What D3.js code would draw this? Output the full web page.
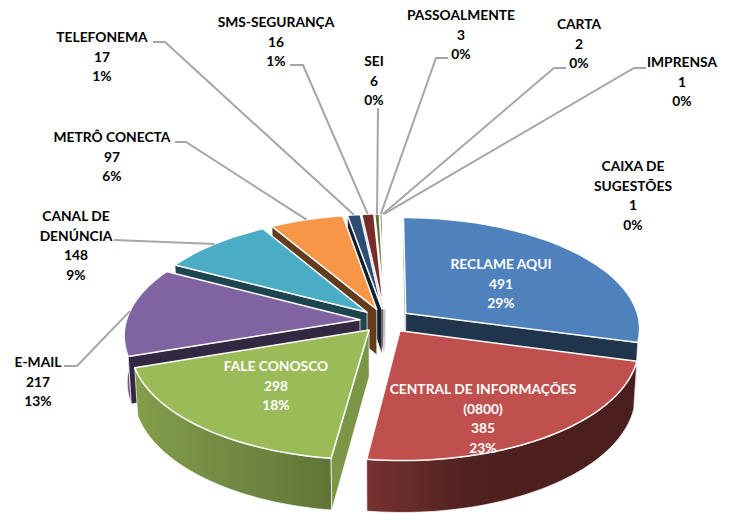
<!DOCTYPE html>
<html><head><meta charset="utf-8">
<style>html,body{margin:0;padding:0;background:#fff}svg{display:block}text{font-family:Lato,"Noto Sans",sans-serif;font-weight:700;font-size:13.8px}</style>
<script src="https://cdn.jsdelivr.net/npm/d3@7/dist/d3.min.js"></script>
</head><body><svg id="c" width="734" height="514"></svg>
<script>
// ---- data ----
const categories = ["RECLAME AQUI","CENTRAL DE INFORMAÇÕES (0800)","FALE CONOSCO","E-MAIL","CANAL DE DENÚNCIA","METRÔ CONECTA","TELEFONEMA","SMS-SEGURANÇA","SEI","PASSOALMENTE","CARTA","IMPRENSA","CAIXA DE SUGESTÕES"];
const values = [491,385,298,217,148,97,17,16,6,3,2,1,1];
const percents = ["29%","23%","18%","13%","9%","6%","1%","1%","0%","0%","0%","0%","0%"];
const labelLines = [["RECLAME AQUI"],["CENTRAL DE INFORMAÇÕES","(0800)"],["FALE CONOSCO"],["E-MAIL"],["CANAL DE","DENÚNCIA"],["METRÔ CONECTA"],["TELEFONEMA"],["SMS-SEGURANÇA"],["SEI"],["PASSOALMENTE"],["CARTA"],["IMPRENSA"],["CAIXA DE","SUGESTÕES"]];
// ---- styles / layout ----
const colors = ["#4F81BD","#C0504D","#9BBB59","#8064A2","#4BACC6","#F79646","#2C4D75","#772C2A","#5F7530","#4D3B62","#276A7C","#B65708","#729ACA"];
const labelX = [501,483,276,38,76,112,102,276,374,461,579,682,633];
const labelY = [264,389,366,362,216,137,37,22,61,15,24,62,166];
const labelFill = ["#fff","#fff","#fff","#000","#000","#000","#000","#000","#000","#000","#000","#000","#000"];
// leader lines: start and elbow; the far end is computed on the slice rim (null = no leader)
const leaderStart = [null,null,null,[64,366],[114,240],[175,142],[153,42],[290,65],[378,108],[448,58],[566,68],[646,68],null];
const leaderElbow = [null,null,null,[77,366],null,[186,142],[165,42],[303,65],null,[436,58],[554,68],[634,68],null];

const cx=385.5, cy=320.6, Rx=233.6, Ry=110, persp=0.13, explode=0.11, depth=46, taper=0.012;
const svg=d3.select("#c"), defs=svg.append("defs");
const pie=d3.pie().sort(null).value(d=>d);
const arcs=pie(values);
const xS=d3.scaleLinear().domain([-1,1]).range([cx-Rx,cx+Rx]);
const yS=d3.scaleLinear().domain([-1,1]).range([cy-Ry,cy+Ry]);
function project(u,v,z){
  const s=1/(1-persp*v)*(1-taper*(z?1:0));
  return [xS(u*s), yS(v*s)+(z?depth/(1-persp*v):0)];
}
const line=d3.line();
const shade=d3.scaleLinear().domain([130,333,367,470,640]).range([.85,.62,.62,.41,.38]).clamp(true);
const mult=(c,k)=>{const r=d3.rgb(c);return d3.rgb(r.r*k,r.g*k,r.b*k).formatHex()};

function sliceGeom(a){
  const mid=(a.startAngle+a.endAngle)/2;
  const ox=explode*Math.sin(mid), oy=-explode*Math.cos(mid);
  const pt=(th,r,z)=>project(ox+r*Math.sin(th),oy-r*Math.cos(th),z);
  const n=Math.max(2,Math.ceil((a.endAngle-a.startAngle)*40));
  const ths=d3.range(n+1).map(i=>a.startAngle+(a.endAngle-a.startAngle)*i/n);
  return {mid,pt,ths};
}
const order=arcs.map((a,i)=>i).sort((p,q)=>{
  const m=i=>-Math.cos((arcs[i].startAngle+arcs[i].endAngle)/2);
  return m(p)-m(q);
});
const gSlices=svg.append("g");
const stopsX=shade.domain();
order.forEach(i=>{
  const a=arcs[i], g=sliceGeom(a), col=colors[i], grp=gSlices.append("g");
  const gid="wall"+i;
  const lg=defs.append("linearGradient").attr("id",gid).attr("gradientUnits","userSpaceOnUse")
    .attr("x1",130).attr("x2",640).attr("y1",0).attr("y2",0);
  stopsX.forEach(x=>lg.append("stop").attr("offset",(x-130)/510).attr("stop-color",mult(col,shade(x))));
  const deg=t=>t*180/Math.PI;
  const edgeFill=th=>(deg(th)>150&&deg(th)<240)?mult(col,.8):mult(col,.4);
  const apex=g.pt(0,0,0), inner=g.pt(g.mid,.5,0);
  // a radial wall shows only if dropping its edge moves it away from the top face
  const visible=th=>{
    const r=g.pt(th,1,0), ex=r[0]-apex[0], ey=r[1]-apex[1];
    const crossDown=ex*1-ey*0, crossIn=ex*(inner[1]-apex[1])-ey*(inner[0]-apex[0]);
    return crossDown*crossIn<0;
  };
  const drawWall=(p,f)=>grp.append("path").attr("d",line(p)+"Z").attr("fill",f).attr("stroke","#fff").attr("stroke-width",.7).attr("stroke-linejoin","round");
  drawWall(g.ths.map(t=>g.pt(t,1,0)).concat(g.ths.slice().reverse().map(t=>g.pt(t,1,1))),`url(#${gid})`);
  [a.startAngle,a.endAngle].filter(visible).forEach(th=>
    drawWall([g.pt(th,0,0),g.pt(th,1,0),g.pt(th,1,1),g.pt(th,0,1)],edgeFill(th)));
  grp.append("path").attr("d",line([apex].concat(g.ths.map(t=>g.pt(t,1,0))))+"Z")
    .attr("fill",col).attr("stroke","#fff").attr("stroke-width",1.5).attr("stroke-linejoin","round");
});

// leader lines
const gLead=svg.append("g");
arcs.forEach((a,i)=>{
  if(!leaderStart[i])return;
  const g=sliceGeom(a);
  const pts=[leaderStart[i]];
  if(leaderElbow[i])pts.push(leaderElbow[i]);
  pts.push(g.pt(g.mid,1.0,0));
  gLead.append("path").attr("d",line(pts)).attr("fill","none").attr("stroke","#a6a6a6").attr("stroke-width",2);
});

// labels
const lh=19.6;
const gText=svg.append("g");
categories.forEach((c,i)=>{
  const lines=labelLines[i].concat([String(values[i]),percents[i]]);
  const t=gText.append("text").attr("text-anchor","middle").attr("fill",labelFill[i]);
  lines.forEach((l,j)=>t.append("tspan").attr("x",labelX[i]).attr("y",labelY[i]+j*lh+5).text(l));
});
</script></body></html>
